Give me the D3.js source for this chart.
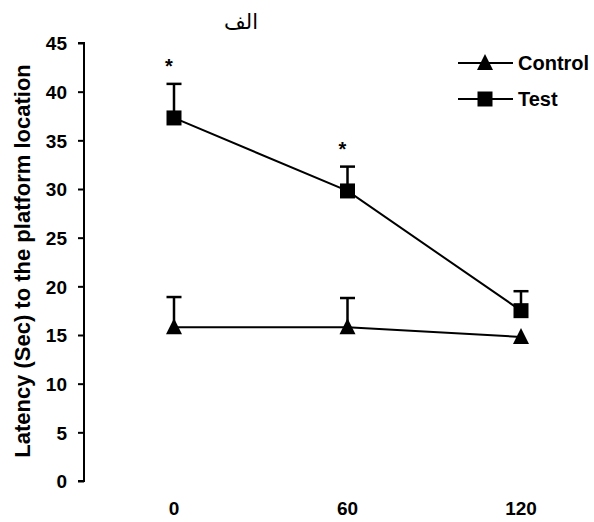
<html>
<head>
<script src="https://d3js.org/d3.v7.min.js"></script>
<style>
body { margin: 0; background: #fff; }
text { font-family: 'Liberation Sans', Arial, sans-serif; font-weight: bold; fill: #000; }
</style>
</head>
<body>
<div id="chart"></div>
<script>
// data
var times = [0, 60, 120];
var controlMean = [15.8, 15.8, 14.8];
var controlErr = [3.1, 3.0, 0];
var testMean = [37.3, 29.8, 17.5];
var testErr = [3.5, 2.5, 2.0];
var yTicks = [0, 5, 10, 15, 20, 25, 30, 35, 40, 45];
var starAt = [0, 60];

var W = 594, H = 522;
var svg = d3.select("#chart").append("svg").attr("width", W).attr("height", H);

var x = d3.scalePoint().domain(times).range([174, 521]);
var y = d3.scaleLinear().domain([0, 45]).range([481, 43]);

// y axis
var yAxis = d3.axisLeft(y).tickValues(yTicks).tickSize(6).tickPadding(11);
var gy = svg.append("g").attr("transform", "translate(84,0)").call(yAxis);
gy.select(".domain").attr("stroke-width", 2).attr("d", "M-6,43H0V481H-6");
gy.selectAll(".tick line").attr("stroke-width", 2);
gy.selectAll(".tick text").style("font-size", "19px").attr("dy", "0.36em");

// x labels, no axis line
svg.selectAll(".xl").data(times).enter().append("text")
  .attr("class", "xl")
  .attr("x", function(d) { return x(d); })
  .attr("y", 515)
  .attr("text-anchor", "middle")
  .style("font-size", "19px")
  .text(function(d) { return d; });

// y label
svg.append("text")
  .attr("transform", "translate(30,261) rotate(-90)")
  .attr("text-anchor", "middle")
  .style("font-size", "22px")
  .text("Latency (Sec) to the platform location");

// title
svg.append("text")
  .attr("x", 241).attr("y", 29)
  .attr("text-anchor", "middle")
  .style("font-weight", "normal")
  .style("font-size", "21px")
  .style("font-family", "'DejaVu Sans', sans-serif")
  .text("الف");

function series(mean, err, shape) {
  var pts = times.map(function(t, i) { return { t: t, m: mean[i], e: err[i] }; });
  var g = svg.append("g");
  g.append("path").datum(pts)
    .attr("fill", "none").attr("stroke", "#000").attr("stroke-width", 2)
    .attr("d", d3.line().x(function(d) { return x(d.t); }).y(function(d) { return y(d.m); }));
  var eb = g.selectAll(".eb").data(pts.filter(function(d) { return d.e > 0; })).enter().append("g");
  eb.append("line")
    .attr("x1", function(d) { return x(d.t); }).attr("x2", function(d) { return x(d.t); })
    .attr("y1", function(d) { return y(d.m); }).attr("y2", function(d) { return y(d.m + d.e); })
    .attr("stroke", "#000").attr("stroke-width", 2.5);
  eb.append("line")
    .attr("x1", function(d) { return x(d.t) - 7.5; }).attr("x2", function(d) { return x(d.t) + 7.5; })
    .attr("y1", function(d) { return y(d.m + d.e); }).attr("y2", function(d) { return y(d.m + d.e); })
    .attr("stroke", "#000").attr("stroke-width", 2.5);
  g.selectAll(".mk").data(pts).enter().append("path")
    .attr("transform", function(d) { return "translate(" + x(d.t) + "," + y(d.m) + ")"; })
    .attr("d", shape)
    .attr("fill", "#000");
}

var tri = "M0,-9L8,7H-8Z";
var sq = "M-7.5,-7.5H7.5V7.5H-7.5Z";
series(controlMean, controlErr, tri);
series(testMean, testErr, sq);

// significance stars
svg.selectAll(".star").data(starAt).enter().append("text")
  .attr("x", function(d) { return x(d) - 5; })
  .attr("y", function(d) { var i = times.indexOf(d); return y(testMean[i] + testErr[i]) - 11; })
  .attr("text-anchor", "middle")
  .style("font-size", "20px")
  .text("*");

// legend
var legend = [{ name: "Control", shape: tri, y: 63 }, { name: "Test", shape: sq, y: 99 }];
var lg = svg.selectAll(".lg").data(legend).enter().append("g")
  .attr("transform", function(d) { return "translate(0," + d.y + ")"; });
lg.append("line").attr("x1", 458).attr("x2", 513).attr("stroke", "#000").attr("stroke-width", 2);
lg.append("path").attr("transform", "translate(485,0)").attr("d", function(d) { return d.shape; }).attr("fill", "#000");
lg.append("text").attr("x", 518).attr("dy", "0.36em").style("font-size", "20px").text(function(d) { return d.name; });
</script>
</body>
</html>
